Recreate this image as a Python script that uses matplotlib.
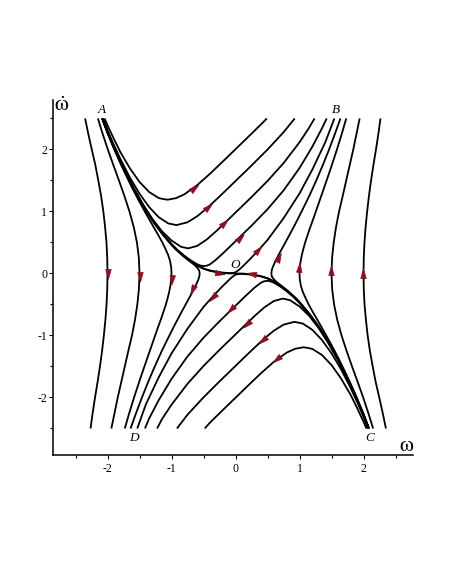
import numpy as np
import matplotlib
matplotlib.use("Agg")
import matplotlib.pyplot as plt
from matplotlib.markers import MarkerStyle
from matplotlib.path import Path
from matplotlib.transforms import Affine2D

plt.rcParams['mathtext.fontset'] = 'stix'
plt.rcParams['font.family'] = ['Liberation Serif', 'DejaVu Serif']
plt.rcParams['axes.unicode_minus'] = False

# ---------------- trajectories (omega, omega_dot), in direction of motion ----------------
# upper family from A to the top right
u1_w = [-2.045, -2.0, -1.9, -1.8, -1.65, -1.5, -1.35, -1.2, -1.13, -1.06, -0.93, -0.8, -0.6, -0.4, -0.2, 0.0, 0.2, 0.4, 0.49]
u1_y = [2.50, 2.39, 2.17, 1.96, 1.695, 1.476, 1.314, 1.217, 1.20, 1.19, 1.215, 1.276, 1.424, 1.607, 1.804, 2.004, 2.204, 2.406, 2.50]
u2_w = [-2.075, -2.0, -1.9, -1.8, -1.65, -1.5, -1.35, -1.2, -1.05, -0.92, -0.75, -0.6, -0.45, -0.3, -0.15, 0.0, 0.25, 0.5, 0.75, 0.925]
u2_y = [2.50, 2.31, 2.073, 1.85, 1.547, 1.287, 1.072, 0.908, 0.807, 0.78, 0.826, 0.922, 1.05, 1.193, 1.341, 1.491, 1.741, 1.998, 2.277, 2.50]
u3_w = [-2.085, -2.0, -1.9, -1.75, -1.6, -1.45, -1.3, -1.15, -1.0, -0.85, -0.74, -0.6, -0.45, -0.3, -0.15, 0.0, 0.25, 0.5, 0.75, 1.0, 1.15, 1.235]
u3_y = [2.50, 2.281, 2.036, 1.699, 1.394, 1.122, 0.882, 0.682, 0.532, 0.43, 0.405, 0.444, 0.547, 0.684, 0.832, 0.982, 1.232, 1.492, 1.779, 2.116, 2.351, 2.50]
u4_w = [-2.085, -2.0, -1.9, -1.75, -1.6, -1.45, -1.3, -1.15, -1.0, -0.9, -0.8, -0.7, -0.6, -0.55, -0.5, -0.45, -0.4, -0.3, -0.15, 0.0, 0.25, 0.5, 0.75, 1.0, 1.2, 1.35, 1.425]
u4_y = [2.50, 2.28, 2.036, 1.696, 1.388, 1.112, 0.868, 0.66, 0.477, 0.373, 0.287, 0.211, 0.149, 0.129, 0.119, 0.125, 0.147, 0.226, 0.37, 0.52, 0.771, 1.036, 1.338, 1.70, 2.044, 2.339, 2.50]
u5_w = [-2.08, -2.0, -1.9, -1.75, -1.6, -1.45, -1.3, -1.15, -1.0, -0.9, -0.8, -0.7, -0.6, -0.5, -0.4, -0.3, -0.2, -0.1, -0.04, 0.0, 0.05, 0.1, 0.2, 0.33, 0.5, 0.75, 1.0, 1.2, 1.4, 1.545]
u5_y = [2.50, 2.272, 2.032, 1.692, 1.383, 1.104, 0.86, 0.65, 0.466, 0.366, 0.276, 0.196, 0.131, 0.081, 0.049, 0.028, 0.014, 0.007, 0.008, 0.02, 0.055, 0.102, 0.203, 0.343, 0.54, 0.89, 1.29, 1.675, 2.11, 2.50]

# separatrix A -> O and C -> O
sa_w = [-2.08, -2.0, -1.9, -1.75, -1.6, -1.45, -1.3, -1.15, -1.0, -0.9, -0.8, -0.7, -0.6, -0.5, -0.4, -0.3, -0.2, -0.1, 0.0]
sa_y = [2.50, 2.27, 2.03, 1.69, 1.38, 1.10, 0.855, 0.645, 0.46, 0.36, 0.27, 0.19, 0.125, 0.075, 0.043, 0.022, 0.008, 0.001, 0.0]
sc_w = [2.08, 2.0, 1.9, 1.75, 1.6, 1.45, 1.3, 1.15, 1.0, 0.9, 0.8, 0.7, 0.6, 0.5, 0.4, 0.3, 0.2, 0.1, 0.0]
sc_y = [-2.50, -2.27, -2.03, -1.69, -1.38, -1.10, -0.855, -0.645, -0.46, -0.36, -0.27, -0.19, -0.125, -0.075, -0.043, -0.022, -0.008, -0.001, 0.0]

# left curves crossing the omega axis downward (top -> bottom)
l1_w = [-2.35, -2.30, -2.246, -2.19, -2.144, -2.10, -2.065, -2.038, -2.016, -2.004, -2.0, -2.004, -2.015, -2.033, -2.057, -2.085, -2.118, -2.155, -2.195, -2.232, -2.265]
l1_y = [2.5, 2.25, 2.0, 1.75, 1.5, 1.25, 1.0, 0.75, 0.5, 0.25, 0.0, -0.25, -0.5, -0.75, -1.0, -1.25, -1.5, -1.75, -2.0, -2.25, -2.5]
l2_w = [-2.15, -2.075, -1.995, -1.909, -1.821, -1.736, -1.657, -1.59, -1.54, -1.51, -1.5, -1.509, -1.534, -1.571, -1.618, -1.675, -1.73, -1.785, -1.84, -1.89, -1.94]
l2_y = [2.5, 2.25, 2.0, 1.75, 1.5, 1.25, 1.0, 0.75, 0.5, 0.25, 0.0, -0.25, -0.5, -0.75, -1.0, -1.25, -1.5, -1.75, -2.0, -2.25, -2.5]
l3_w = [-2.085, -1.993, -1.894, -1.808, -1.718, -1.624, -1.524, -1.418, -1.363, -1.308, -1.252, -1.196, -1.143, -1.096, -1.053, -1.022, -1.005, -1.0, -1.005, -1.018, -1.037, -1.061, -1.088, -1.152, -1.222, -1.289, -1.39, -1.49, -1.585, -1.66, -1.73]
l3_y = [2.5, 2.25, 2.0, 1.8, 1.6, 1.4, 1.2, 1.0, 0.9, 0.8, 0.7, 0.6, 0.5, 0.4, 0.3, 0.2, 0.1, 0.0, -0.1, -0.2, -0.3, -0.4, -0.5, -0.7, -0.9, -1.1, -1.4, -1.7, -2.0, -2.25, -2.5]
l4_w = [-2.065, -1.985, -1.89, -1.78, -1.66, -1.53, -1.385, -1.26, -1.11, -1.03, -0.945, -0.839, -0.781, -0.719, -0.656, -0.603, -0.568, -0.56, -0.566, -0.581, -0.624, -0.674, -0.726, -0.832, -0.935, -1.033, -1.152, -1.262, -1.365, -1.462, -1.553, -1.64]
l4_y = [2.5, 2.25, 2.0, 1.75, 1.5, 1.25, 1.0, 0.8, 0.6, 0.5, 0.4, 0.3, 0.25, 0.2, 0.15, 0.1, 0.05, 0.0, -0.05, -0.1, -0.2, -0.3, -0.4, -0.6, -0.8, -1.0, -1.25, -1.5, -1.75, -2.0, -2.25, -2.5]

# right curves crossing the omega axis upward (bottom -> top)
r1_w = [2.065, 1.985, 1.89, 1.78, 1.66, 1.53, 1.385, 1.26, 1.11, 1.03, 0.945, 0.839, 0.781, 0.719, 0.656, 0.603, 0.568, 0.56, 0.566, 0.581, 0.624, 0.674, 0.726, 0.832, 0.935, 1.033, 1.152, 1.262, 1.365, 1.462, 1.553, 1.64]
r1_y = [-2.5, -2.25, -2.0, -1.75, -1.5, -1.25, -1.0, -0.8, -0.6, -0.5, -0.4, -0.3, -0.25, -0.2, -0.15, -0.1, -0.05, 0.0, 0.05, 0.1, 0.2, 0.3, 0.4, 0.6, 0.8, 1.0, 1.25, 1.5, 1.75, 2.0, 2.25, 2.5]
r2_w = [2.085, 1.993, 1.894, 1.808, 1.718, 1.624, 1.524, 1.418, 1.363, 1.308, 1.252, 1.196, 1.143, 1.096, 1.053, 1.022, 1.005, 1.0, 1.005, 1.018, 1.037, 1.061, 1.088, 1.152, 1.222, 1.289, 1.39, 1.49, 1.585, 1.66, 1.73]
r2_y = [-2.5, -2.25, -2.0, -1.8, -1.6, -1.4, -1.2, -1.0, -0.9, -0.8, -0.7, -0.6, -0.5, -0.4, -0.3, -0.2, -0.1, 0.0, 0.1, 0.2, 0.3, 0.4, 0.5, 0.7, 0.9, 1.1, 1.4, 1.7, 2.0, 2.25, 2.5]
r3_w = [2.15, 2.075, 1.995, 1.909, 1.821, 1.736, 1.657, 1.59, 1.54, 1.51, 1.5, 1.509, 1.534, 1.571, 1.618, 1.675, 1.73, 1.785, 1.84, 1.89, 1.94]
r3_y = [-2.5, -2.25, -2.0, -1.75, -1.5, -1.25, -1.0, -0.75, -0.5, -0.25, 0.0, 0.25, 0.5, 0.75, 1.0, 1.25, 1.5, 1.75, 2.0, 2.25, 2.5]
r4_w = [2.35, 2.30, 2.246, 2.19, 2.144, 2.10, 2.065, 2.038, 2.016, 2.004, 2.0, 2.004, 2.015, 2.033, 2.057, 2.085, 2.118, 2.155, 2.195, 2.232, 2.265]
r4_y = [-2.5, -2.25, -2.0, -1.75, -1.5, -1.25, -1.0, -0.75, -0.5, -0.25, 0.0, 0.25, 0.5, 0.75, 1.0, 1.25, 1.5, 1.75, 2.0, 2.25, 2.5]

# lower family from C to the bottom left
d1_w = [2.045, 2.0, 1.9, 1.8, 1.65, 1.5, 1.35, 1.2, 1.13, 1.06, 0.93, 0.8, 0.6, 0.4, 0.2, 0.0, -0.2, -0.4, -0.48]
d1_y = [-2.50, -2.39, -2.17, -1.96, -1.695, -1.476, -1.314, -1.217, -1.20, -1.19, -1.215, -1.276, -1.424, -1.607, -1.804, -2.004, -2.204, -2.406, -2.50]
d2_w = [2.075, 2.0, 1.9, 1.8, 1.65, 1.5, 1.35, 1.2, 1.05, 0.92, 0.75, 0.6, 0.45, 0.3, 0.15, 0.0, -0.25, -0.5, -0.75, -0.915]
d2_y = [-2.50, -2.31, -2.073, -1.85, -1.547, -1.287, -1.072, -0.908, -0.807, -0.78, -0.826, -0.922, -1.05, -1.193, -1.341, -1.491, -1.741, -1.998, -2.277, -2.50]
d3_w = [2.085, 2.0, 1.9, 1.75, 1.6, 1.45, 1.3, 1.15, 1.0, 0.85, 0.74, 0.6, 0.45, 0.3, 0.15, 0.0, -0.25, -0.5, -0.75, -1.0, -1.15, -1.225]
d3_y = [-2.50, -2.281, -2.036, -1.699, -1.394, -1.122, -0.882, -0.682, -0.532, -0.43, -0.405, -0.444, -0.547, -0.684, -0.832, -0.982, -1.232, -1.492, -1.779, -2.116, -2.351, -2.50]
d4_w = [2.085, 2.0, 1.9, 1.75, 1.6, 1.45, 1.3, 1.15, 1.0, 0.9, 0.8, 0.7, 0.6, 0.55, 0.5, 0.45, 0.4, 0.3, 0.15, 0.0, -0.25, -0.5, -0.75, -1.0, -1.2, -1.35, -1.415]
d4_y = [-2.50, -2.28, -2.036, -1.696, -1.388, -1.112, -0.868, -0.66, -0.477, -0.373, -0.287, -0.211, -0.149, -0.129, -0.119, -0.125, -0.147, -0.226, -0.37, -0.52, -0.771, -1.036, -1.338, -1.70, -2.044, -2.339, -2.50]
d5_w = [2.08, 2.0, 1.9, 1.75, 1.6, 1.45, 1.3, 1.15, 1.0, 0.9, 0.8, 0.7, 0.6, 0.5, 0.4, 0.3, 0.2, 0.1, 0.04, 0.0, -0.05, -0.1, -0.2, -0.33, -0.5, -0.75, -1.0, -1.2, -1.4, -1.535]
d5_y = [-2.50, -2.272, -2.032, -1.692, -1.383, -1.104, -0.86, -0.65, -0.466, -0.366, -0.276, -0.196, -0.131, -0.081, -0.049, -0.028, -0.014, -0.007, -0.008, -0.02, -0.055, -0.102, -0.203, -0.343, -0.54, -0.89, -1.29, -1.675, -2.11, -2.50]

# arrow positions (one per trajectory, same order as the curves)
arrow_w = [-0.66, -0.45, -0.19, 0.05, 0.34, -0.27, 0.27, -1.99, -1.49, -0.99, -0.66, 0.66, 0.99, 1.49, 1.99, 0.66, 0.45, 0.19, -0.05, -0.34]
arrow_y = [1.37, 1.06, 0.80, 0.56, 0.36, 0.015, -0.015, 0.02, -0.03, -0.08, -0.24, 0.24, 0.08, 0.03, -0.02, -1.37, -1.06, -0.80, -0.56, -0.36]

# axis ticks and point labels
tick_values = [-2, -1, 0, 1, 2]
minor_values = [-2.5, -1.5, -0.5, 0.5, 1.5, 2.5]
point_names = ['A', 'B', 'C', 'D', 'O']
point_w = [-2.09, 1.57, 2.09, -1.58, -0.01]
point_y = [2.63, 2.63, -2.66, -2.66, 0.13]

curves = [(u1_w, u1_y), (u2_w, u2_y), (u3_w, u3_y), (u4_w, u4_y), (u5_w, u5_y),
          (sa_w, sa_y), (sc_w, sc_y),
          (l1_w, l1_y), (l2_w, l2_y), (l3_w, l3_y), (l4_w, l4_y),
          (r1_w, r1_y), (r2_w, r2_y), (r3_w, r3_y), (r4_w, r4_y),
          (d1_w, d1_y), (d2_w, d2_y), (d3_w, d3_y), (d4_w, d4_y), (d5_w, d5_y)]

fig = plt.figure(figsize=(4.51, 5.83), dpi=100)
ax = fig.add_axes([0.1169, 0.2196, 0.7988, 0.6089])
ax.set_xlim(-2.856, 2.773)
ax.set_ylim(-2.927, 2.798)

for w, y in curves:
    ax.plot(w, y, color='black', lw=1.3, solid_joinstyle='round', solid_capstyle='butt', zorder=2)

red = '#8c0f22'
tri = Path([(0, 1.0), (-0.42, -0.45), (0.42, -0.45), (0, 1.0)],
           [Path.MOVETO, Path.LINETO, Path.LINETO, Path.CLOSEPOLY])
for k, (aw, ay) in enumerate(zip(arrow_w, arrow_y)):
    w, y = curves[k]
    pts = ax.transData.transform(np.column_stack([w, y]))
    p = ax.transData.transform((aw, ay))
    i = int(np.argmin(np.hypot(pts[:, 0] - p[0], pts[:, 1] - p[1])))
    i0, i1 = max(i - 1, 0), min(i + 1, len(w) - 1)
    v = pts[i1] - pts[i0]
    ang = np.degrees(np.arctan2(v[1], v[0]))
    m = MarkerStyle(tri, transform=Affine2D().rotate_deg(ang - 90))
    ax.plot([aw], [ay], marker=m, ms=9.5, color=red, mec=red, mew=0.5, ls='none', zorder=4)

for s in ['top', 'right']:
    ax.spines[s].set_visible(False)
for s in ['left', 'bottom']:
    ax.spines[s].set_linewidth(1.1)

ax.set_xticks(tick_values)
ax.set_yticks(tick_values)
ax.set_xticks(minor_values, minor=True)
ax.set_yticks(minor_values, minor=True)
ax.set_xticklabels([str(v) for v in tick_values])
ax.set_yticklabels([str(v) for v in tick_values])
ax.tick_params(axis='both', which='major', direction='out', length=3, width=0.8, labelsize=8.5)
ax.tick_params(axis='both', which='minor', direction='out', length=2, width=0.8)
ax.tick_params(axis='x', which='major', pad=3)
ax.tick_params(axis='y', which='major', pad=1)

for name, pw, py in zip(point_names, point_w, point_y):
    ax.text(pw, py, name, fontsize=9.5, style='italic', ha='center', va='center')

ax.text(-2.72, 2.69, r'$\dot{\mathrm{\omega}}$', fontsize=16, ha='center', va='center')
ax.text(2.68, -2.79, r'$\mathrm{\omega}$', fontsize=16, ha='center', va='center')

fig.savefig('out.png', dpi=100)
